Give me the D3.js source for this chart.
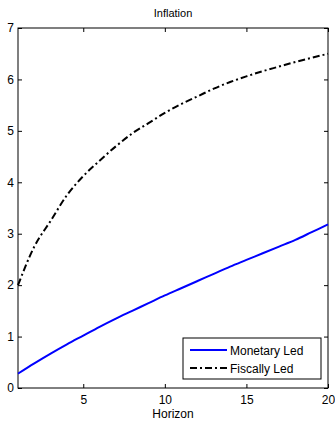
<!DOCTYPE html>
<html>
<head>
<meta charset="utf-8">
<script src="https://cdn.jsdelivr.net/npm/d3@7"></script>
<style>
body { margin: 0; background: #fff; }
text { font-family: "Liberation Sans", Arial, sans-serif; }
</style>
</head>
<body>
<script>
// data
var horizon = d3.range(1, 21);
var monetaryLed = [0.28, 0.48, 0.67, 0.85, 1.02, 1.19, 1.35, 1.50, 1.65, 1.80,
                   1.94, 2.08, 2.22, 2.36, 2.49, 2.62, 2.75, 2.88, 3.03, 3.18];
var fiscallyLed = [2.0, 2.75, 3.25, 3.75, 4.12, 4.42, 4.70, 4.95, 5.15, 5.35,
                   5.52, 5.67, 5.82, 5.95, 6.06, 6.16, 6.25, 6.34, 6.42, 6.50];
var xTicks = [5, 10, 15, 20];
var yTicks = [0, 1, 2, 3, 4, 5, 6, 7];

// margin
var margin = {top: 28, right: 7, bottom: 34, left: 18},
    width = 335 - margin.left - margin.right,
    height = 422 - margin.top - margin.bottom;

var svg = d3.select("body").append("svg")
    .attr("width", 335)
    .attr("height", 422);

var g = svg.append("g")
    .attr("transform", "translate(" + margin.left + "," + margin.top + ")");

var x = d3.scaleLinear().domain([1, 20]).range([0, width]);
var y = d3.scaleLinear().domain([0, 7]).range([height, 0]);

// axes, ticks pointing inward like matlab
g.append("g")
    .attr("transform", "translate(0," + height + ")")
    .call(d3.axisBottom(x).tickValues(xTicks).tickFormat(d3.format("d")).tickSizeInner(-4).tickSizeOuter(0).tickPadding(7))
    .call(function(a) { a.select(".domain").remove(); });
g.append("g")
    .call(d3.axisTop(x).tickValues(xTicks).tickSizeInner(-4).tickSizeOuter(0).tickFormat(""))
    .call(function(a) { a.select(".domain").remove(); });
g.append("g")
    .call(d3.axisLeft(y).tickValues(yTicks).tickFormat(d3.format("d")).tickSizeInner(-4).tickSizeOuter(0).tickPadding(4))
    .call(function(a) { a.select(".domain").remove(); });
g.append("g")
    .attr("transform", "translate(" + width + ",0)")
    .call(d3.axisRight(y).tickValues(yTicks).tickSizeInner(-4).tickSizeOuter(0).tickFormat(""))
    .call(function(a) { a.select(".domain").remove(); });

g.selectAll(".tick text").attr("font-size", 12).attr("font-family", "Liberation Sans, Arial, sans-serif").attr("fill", "#000");
g.selectAll(".tick line").attr("stroke", "#000");

// box
g.append("rect")
    .attr("width", width).attr("height", height)
    .attr("fill", "none").attr("stroke", "#000").attr("stroke-width", 1);

var line = d3.line()
    .x(function(d, i) { return x(horizon[i]); })
    .y(function(d) { return y(d); })
    .curve(d3.curveMonotoneX);

g.append("path")
    .datum(monetaryLed)
    .attr("d", line)
    .attr("fill", "none")
    .attr("stroke", "#0000ff")
    .attr("stroke-width", 2);

g.append("path")
    .datum(fiscallyLed)
    .attr("d", line)
    .attr("fill", "none")
    .attr("stroke", "#000")
    .attr("stroke-width", 2)
    .attr("stroke-dasharray", "7,3,2,3");

// title and label
svg.append("text")
    .attr("x", margin.left + width / 2).attr("y", 17)
    .attr("text-anchor", "middle").attr("font-size", 11)
    .text("Inflation");
svg.append("text")
    .attr("x", margin.left + width / 2).attr("y", 418)
    .attr("text-anchor", "middle").attr("font-size", 12)
    .text("Horizon");

// legend
var legend = svg.append("g").attr("transform", "translate(183,338)");
legend.append("rect")
    .attr("width", 138).attr("height", 41)
    .attr("fill", "#fff").attr("stroke", "#000");
var items = [
    {name: "Monetary Led", color: "#0000ff", dash: null},
    {name: "Fiscally Led", color: "#000", dash: "7,3,2,3"}
];
items.forEach(function(d, i) {
    var yy = 12 + i * 18;
    legend.append("line")
        .attr("x1", 7).attr("x2", 44).attr("y1", yy).attr("y2", yy)
        .attr("stroke", d.color).attr("stroke-width", 2)
        .attr("stroke-dasharray", d.dash);
    legend.append("text")
        .attr("x", 47).attr("y", yy + 4.5)
        .attr("font-size", 12)
        .text(d.name);
});
</script>
</body>
</html>
